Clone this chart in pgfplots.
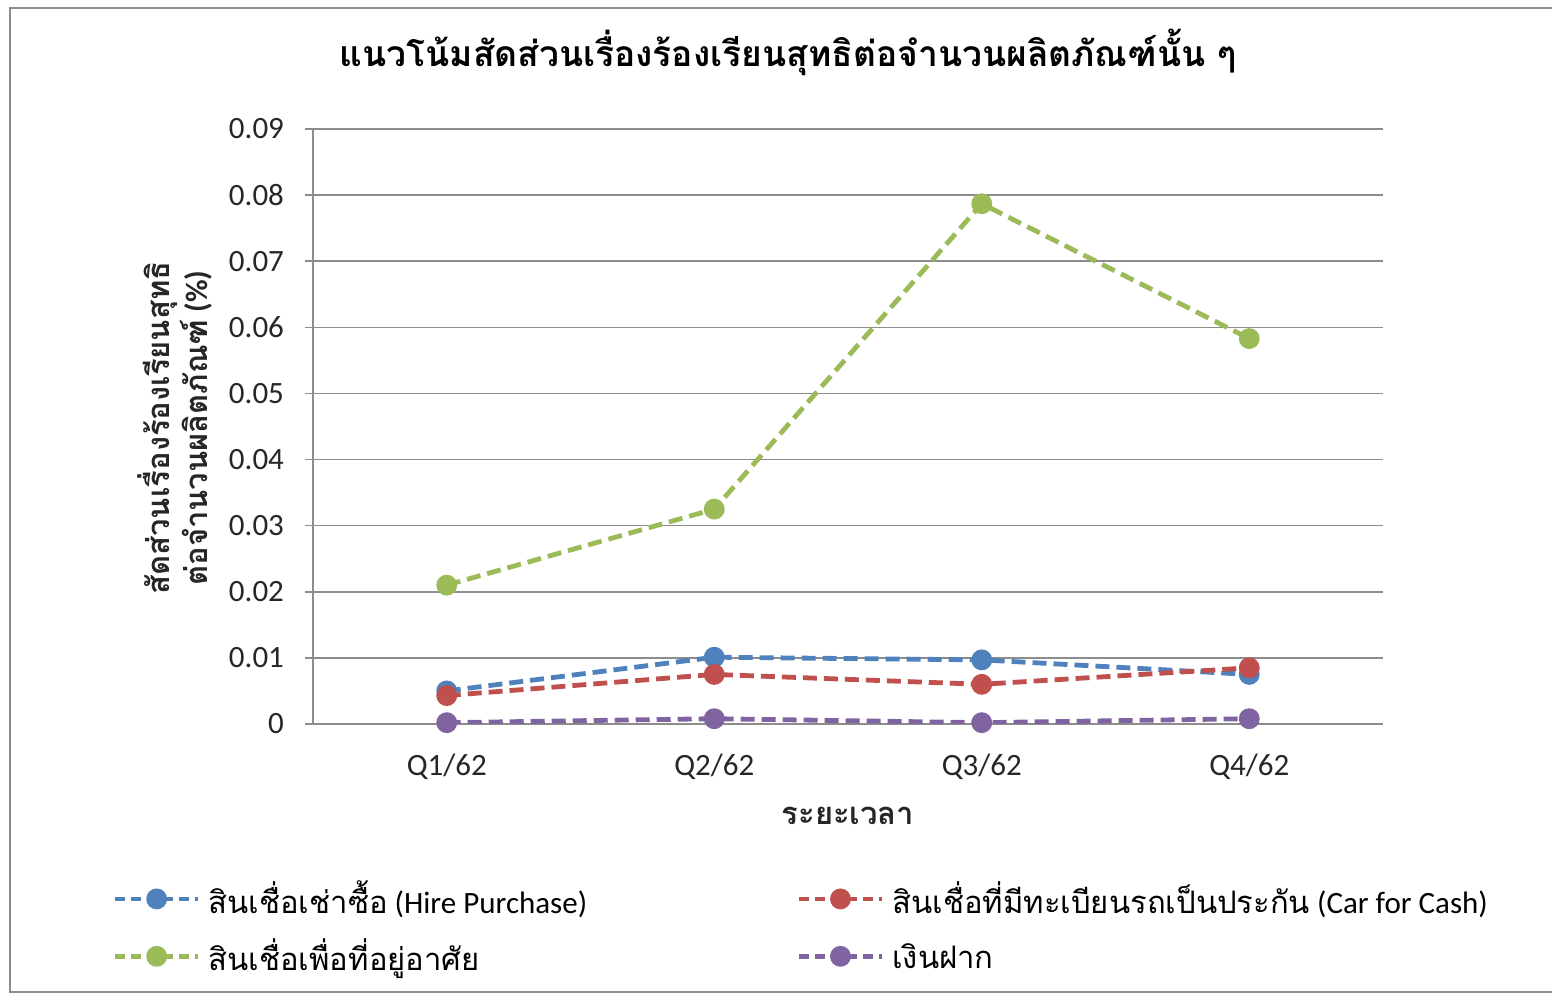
\documentclass[border=0pt]{standalone}
\usepackage{fontspec}
\setmainfont{Carlito}
\newfontfamily\thaifont[Script=Thai]{Loma}
\usepackage{pgfplots}
\pgfplotsset{compat=1.18}
\definecolor{cblue}{RGB}{79,129,189}
\definecolor{cred}{RGB}{192,80,77}
\definecolor{cgreen}{RGB}{155,187,89}
\definecolor{cpurple}{RGB}{128,100,162}
\definecolor{gridgray}{RGB}{140,140,140}
\definecolor{textgray}{RGB}{38,38,38}
\newcommand{\tf}[1]{{\thaifont #1}}
\newcommand{\fs}{\fontsize{15.5}{18.6}\selectfont}
\newcommand{\ls}{\rule[-6pt]{0pt}{20pt}}
\begin{document}
\begin{tikzpicture}
\useasboundingbox (0,0) rectangle (776pt,497.5pt);
\draw[gridgray,line width=1pt] (790pt,493.5pt) -- (5pt,493.5pt) -- (5pt,1.5pt) -- (790pt,1.5pt);
\node[font=\bfseries] at (394pt,471.5pt) {\fontsize{17.7}{21}\selectfont\tf{แนวโน้มสัดส่วนเรื่องร้องเรียนสุทธิต่อจำนวนผลิตภัณฑ์นั้น ๆ}};
\node[rotate=90,align=center,font=\fs\bfseries,text=textgray] at (87.5pt,283.5pt) {\tf{สัดส่วนเรื่องร้องเรียนสุทธิ}\\\tf{ต่อจำนวนผลิตภัณฑ์} (\%)};
\node[font=\fs\bfseries,text=textgray] at (424pt,89.5pt) {\tf{ระยะเวลา}};
\begin{axis}[
  at={(156.5pt,135.5pt)}, anchor=south west,
  width=535pt, height=297.5pt, scale only axis,
  xmin=-0.5, xmax=3.5, ymin=0, ymax=0.09,
  scaled y ticks=false,
  xtick={0,1,2,3}, xticklabels={Q1/62,Q2/62,Q3/62,Q4/62},
  ytick={0,0.01,0.02,0.03,0.04,0.05,0.06,0.07,0.08,0.09},
  yticklabels={0,0.01,0.02,0.03,0.04,0.05,0.06,0.07,0.08,0.09},
  axis lines*=left,
  axis line style={gridgray,line width=0.75pt},
  ymajorgrids, grid style={gridgray,line width=0.75pt},
  tick align=outside, major tick length=4pt,
  xtick style={draw=none}, ytick style={gridgray,line width=0.75pt},
  tick label style={font=\fs,text=textgray},
  xticklabel style={yshift=-7.5pt},
  yticklabel style={xshift=-7pt},
  every axis plot/.append style={line width=2.4pt, dash pattern=on 7pt off 3.5pt,
    mark=*, mark size=4pt, mark options={solid}},
  legend columns=2,
  legend style={at={(-0.1875,-0.2565)}, anchor=north west, draw=none, fill=none,
    font=\fs, text=black, row sep=7pt, column sep=0pt, inner sep=0pt,
    nodes={inner xsep=4pt}},
  legend cell align=left,
  legend image code/.code={
    \draw[#1, mark repeat=2, mark phase=2, dash pattern=on 5pt off 3pt] plot coordinates {(0pt,0pt) (20.75pt,0pt) (41.5pt,0pt)};
  },
]
\addplot[cblue] coordinates {(0,0.0050) (1,0.0101) (2,0.0097) (3,0.0075)};
\addlegendentry{\makebox[290pt][l]{\ls\tf{สินเชื่อเช่าซื้อ} (Hire Purchase)}}
\addplot[cred] coordinates {(0,0.0043) (1,0.0075) (2,0.0060) (3,0.0085)};
\addlegendentry{\ls\tf{สินเชื่อที่มีทะเบียนรถเป็นประกัน} (Car for Cash)}
\addplot[cgreen] coordinates {(0,0.0210) (1,0.0325) (2,0.0787) (3,0.0583)};
\addlegendentry{\makebox[290pt][l]{\ls\tf{สินเชื่อเพื่อที่อยู่อาศัย}}}
\addplot[cpurple] coordinates {(0,0.0002) (1,0.0008) (2,0.0002) (3,0.0008)};
\addlegendentry{\ls\tf{เงินฝาก}}
\end{axis}
\end{tikzpicture}
\end{document}
